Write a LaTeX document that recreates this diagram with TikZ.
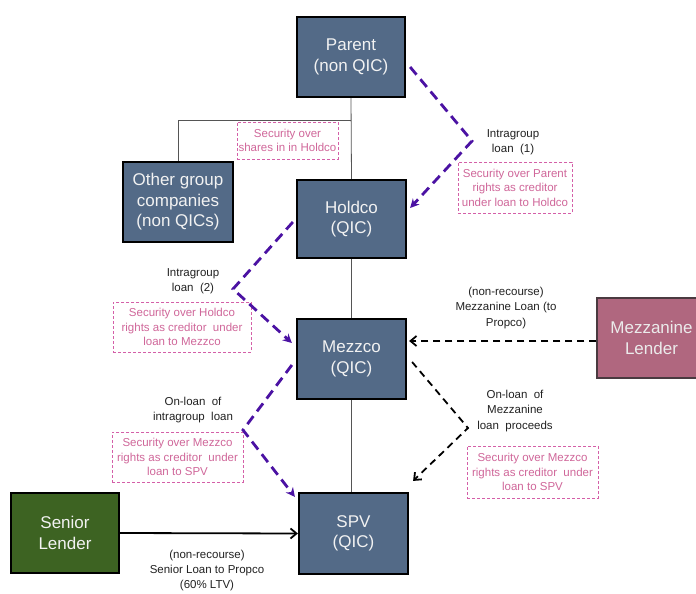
\documentclass[tikz,border=0pt]{standalone}
\usepackage{fontspec}
\setmainfont{Liberation Sans}
\usetikzlibrary{arrows.meta,calc}
\definecolor{boxblue}{HTML}{536A87}
\definecolor{boxgreen}{HTML}{3D6322}
\definecolor{boxmauve}{HTML}{B0677F}
\definecolor{mauveedge}{HTML}{4A3A40}
\definecolor{purp}{HTML}{4B12A3}
\definecolor{pinktext}{HTML}{D0679A}
\definecolor{pinkedge}{HTML}{D45FA8}
\definecolor{grayline}{HTML}{555555}
\definecolor{labeltext}{HTML}{222222}
\tikzset{
  entity/.style={draw=black, line width=2.2pt, fill=boxblue, text=white!95!black,
    minimum width=#1, minimum height=80pt, inner sep=0pt, align=center,
    font=\fontsize{17}{20.5}\selectfont},
  entity/.default=109pt,
  secbox/.style={draw=pinkedge, densely dashed, line width=0.7pt, text=pinktext,
    inner sep=0pt, align=center, font=\fontsize{11.5}{14.5}\selectfont},
  lbl/.style={text=labeltext, inner sep=0pt, align=center,
    font=\fontsize{11.5}{15.5}\selectfont},
  purparrow/.style={draw=purp, line width=2.8pt, dash pattern=on 10pt off 6pt,
    -{Stealth[length=9pt,width=9pt]}},
  blkarrow/.style={draw=black, line width=1.8pt, dash pattern=on 7pt off 5pt,
    -{Straight Barb[length=6pt,width=10pt]}},
  thinline/.style={draw=grayline, line width=0.8pt},
}
\begin{document}
\begin{tikzpicture}[x=1pt,y=-1pt]
\useasboundingbox (0,0) rectangle (696,594);
\clip (0,0) rectangle (696,594);
\fill[white] (0,0) rectangle (696,594);

% entities
\node[entity=108pt] (Parent) at (351,57) {Parent\\(non QIC)};
\node[entity=110pt] (Other) at (178,202) {Other group\\companies\\(non QICs)};
\node[entity, minimum height=78pt] (Holdco) at (351.5,219) {Holdco\\(QIC)};
\node[entity] (Mezzco) at (351.5,359) {Mezzco\\(QIC)};
\node[entity, minimum height=81pt] (SPV) at (353.5,533.5) {SPV\\(QIC)};
\node[entity=108pt, fill=boxgreen] (Senior) at (65,533) {Senior\\Lender};
\node[entity, fill=boxmauve, draw=mauveedge, line width=1.5pt, text=white!92!black] (MezzL) at (651.5,338) {Mezzanine\\Lender};

% ownership lines
\coordinate (j) at (351,120);
\draw[thinline] (Parent.south) -- (Holdco.north);
\draw[thinline] (j) -| (Other.north);
\draw[thinline] (Holdco.south) -- (Mezzco.north);
\draw[thinline] (Mezzco.south) -- (Mezzco.south |- SPV.north);

% security boxes
\node[secbox, minimum width=101pt, minimum height=37pt] (s1) at (287.5,140.5) {Security over\\shares in in Holdco};
\node[secbox, minimum width=114pt, minimum height=51pt] (s2) at (515,187.5) {Security over Parent\\rights as creditor\\under loan to Holdco};
\node[secbox, minimum width=138pt, minimum height=50pt] (s3) at (182,327) {Security over Holdco\\rights as creditor\ \ under\\loan to Mezzco};
\node[secbox, minimum width=131pt, minimum height=50pt] (s4) at (177.5,457) {Security over Mezzco\\rights as creditor\ \ under\\loan to SPV};
\node[secbox, minimum width=131pt, minimum height=52pt] (s5) at (532.5,472) {Security over Mezzco\\rights as creditor\ \ under\\loan to SPV};

% labels
\node[lbl] (l1) at (513,142) {Intragroup\\loan\ \ (1)};
\node[lbl] (l2) at (193,281) {Intragroup\\loan\ \ (2)};
\node[lbl] (l3) at (193,410) {On-loan\ \ of\\intragroup\ \ loan};
\node[lbl] (l4) at (506,308) {(non-recourse)\\Mezzanine Loan (to\\Propco)};
\node[lbl] (l5) at (515,411) {On-loan\ \ of\\Mezzanine\\loan\ \ proceeds};
\node[lbl, font=\fontsize{11.5}{15}\selectfont] (l6) at (207,571) {(non-recourse)\\Senior Loan to Propco\\(60\% LTV)};

% kinks
\coordinate (k1) at (472,141);
\coordinate (k2) at (233,289);
\coordinate (k3) at (243,430);
\coordinate (k4) at (468,428);

% intragroup loans (purple)
\draw[purparrow] ($(Parent.east)+(4,10)$) -- (k1) -- ($(Holdco.east)+(3,-11)$);
\draw[purparrow] ($(Holdco.west)+(-3,3)$) -- (k2) -- ($(Mezzco.west)+(-4,-16)$);
\draw[purparrow] ($(Mezzco.west)+(-4,6)$) -- (k3) -- ($(SPV.north west)+(-3,5)$);

% mezzanine loans (black dashed)
\draw[blkarrow] ($(MezzL.west)+(0,3)$) -- ($(Mezzco.east)+(2,-18)$);
\draw[blkarrow] ($(Mezzco.east)+(5,3)$) -- (k4) -- ($(SPV.north east)+(4,-11)$);

% senior loan
\draw[black, line width=1.8pt, -{Straight Barb[length=6pt,width=10pt]}] (Senior.east) -- (SPV.west);
\end{tikzpicture}
\end{document}
